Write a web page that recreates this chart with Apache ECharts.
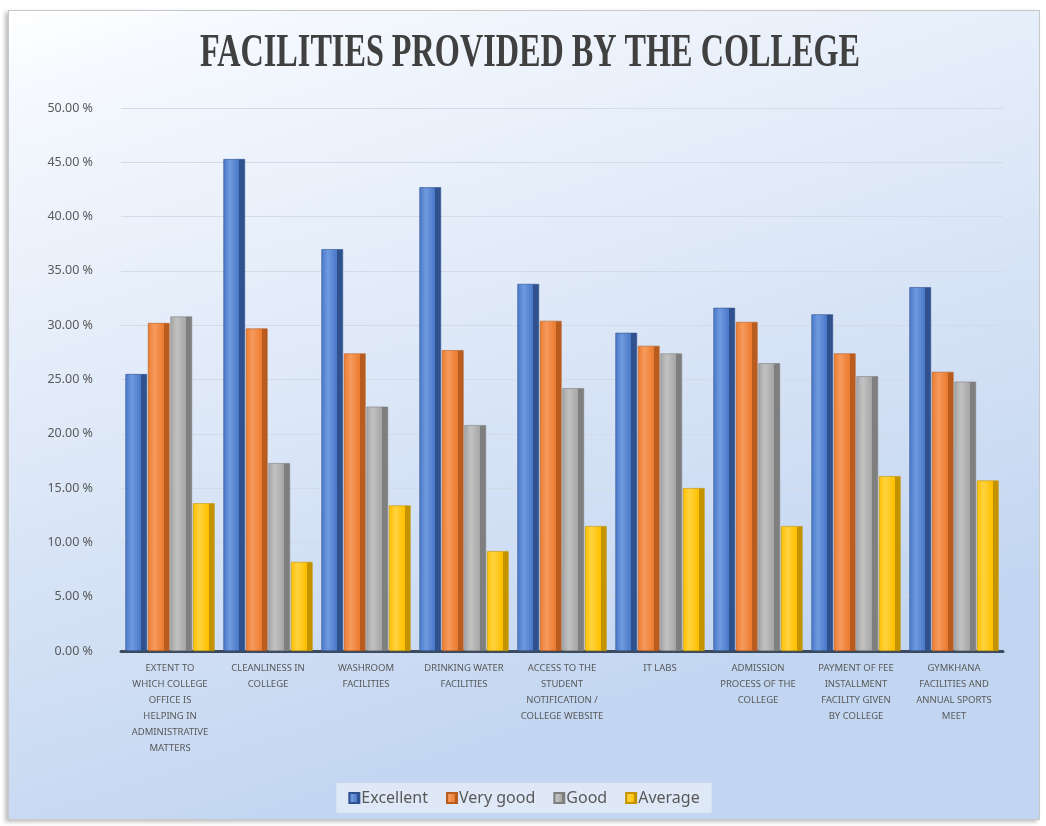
<!DOCTYPE html>
<html><head><meta charset="utf-8">
<script src="https://cdn.jsdelivr.net/npm/echarts@6/dist/echarts.min.js"></script>
<style>
html,body{margin:0;padding:0;background:#fff;width:1046px;height:826px;overflow:hidden}
#c{position:absolute;left:8px;top:10px;width:1030px;height:808px;border:1px solid #c8c8c8;box-shadow:-3px 2px 4px rgba(0,0,0,0.25)}
</style></head><body>
<div id="c"></div>
<script>
const title = 'FACILITIES PROVIDED BY THE COLLEGE';
const categories = [
  'EXTENT TO\nWHICH COLLEGE\nOFFICE IS\nHELPING IN\nADMINISTRATIVE\nMATTERS',
  'CLEANLINESS IN\nCOLLEGE',
  'WASHROOM\nFACILITIES',
  'DRINKING WATER\nFACILITIES',
  'ACCESS TO THE\nSTUDENT\nNOTIFICATION /\nCOLLEGE WEBSITE',
  'IT LABS',
  'ADMISSION\nPROCESS OF THE\nCOLLEGE',
  'PAYMENT OF FEE\nINSTALLMENT\nFACILITY GIVEN\nBY COLLEGE',
  'GYMKHANA\nFACILITIES AND\nANNUAL SPORTS\nMEET'
];
const seriesNames = ['Excellent', 'Very good', 'Good', 'Average'];
const excellent = [25.5, 45.3, 37.0, 42.7, 33.8, 29.3, 31.6, 31.0, 33.5];
const veryGood  = [30.2, 29.7, 27.4, 27.7, 30.4, 28.1, 30.3, 27.4, 25.7];
const good      = [30.8, 17.3, 22.5, 20.8, 24.2, 27.4, 26.5, 25.3, 24.8];
const average   = [13.6, 8.2, 13.4, 9.2, 11.5, 15.0, 11.5, 16.1, 15.7];
const yTicks = {min: 0, max: 50, interval: 5};

const palette = [
  ['#6f9ae0', '#4a78c8', '#2f528f'],
  ['#f59a5c', '#ec7c30', '#b85d1f'],
  ['#c2c2c2', '#a5a5a5', '#7f7f7f'],
  ['#ffd23f', '#ffc000', '#c49400']
];
function grad(p){
  return new echarts.graphic.LinearGradient(0,0,1,0,[
    {offset:0,color:p[1]},{offset:0.3,color:p[0]},{offset:0.72,color:p[1]},
    {offset:0.74,color:p[2]},{offset:1,color:p[2]}]);
}
const titleFont = 'bold 47px "Liberation Serif"';
const cv = document.createElement('canvas').getContext('2d');
cv.font = titleFont;
const titleScale = 660 / cv.measureText(title).width;

const dataSets = [excellent, veryGood, good, average];
const chart = echarts.init(document.getElementById('c'));
chart.setOption({
  backgroundColor: new echarts.graphic.LinearGradient(0,0,0.25,1,[
    {offset:0,color:'#ffffff'},{offset:0.1,color:'#f5f9fe'},{offset:0.5,color:'#dfe9f8'},{offset:1,color:'#c3d6f1'}]),
  animation:false,
  graphic:[{type:'text',x:521,y:43,scaleX:titleScale,
    style:{text:title,font:titleFont,fill:'#404040',textAlign:'center',textVerticalAlign:'middle'}}],
  legend:{bottom:6,left:'center',icon:'rect',itemWidth:10,itemHeight:10,itemGap:18,
    backgroundColor:'rgba(225,234,247,0.9)',padding:[7,12],
    textStyle:{fontFamily:'Noto Sans',fontSize:16,color:'#595959',padding:[0,0,0,-3]},
    data:seriesNames},
  grid:{left:112,right:36,top:97,bottom:168},
  xAxis:{type:'category',data:categories,
    axisLine:{lineStyle:{color:'#3b4a5c',width:3}},
    axisTick:{show:false},
    axisLabel:{interval:0,margin:9,fontFamily:'Noto Sans',fontSize:9.5,color:'#595959',lineHeight:16}},
  yAxis:{type:'value',min:yTicks.min,max:yTicks.max,interval:yTicks.interval,
    axisLine:{show:false},axisTick:{show:false},
    axisLabel:{formatter:v=>v.toFixed(2)+' %',fontFamily:'Noto Sans',fontSize:12.5,color:'#595959',margin:28},
    splitLine:{lineStyle:{color:'#d3dbe6',width:1}}},
  series: dataSets.map((d,i)=>({
    name:seriesNames[i],type:'bar',data:d,barGap:'4%',barCategoryGap:'9%',
    itemStyle:{color:grad(palette[i]),borderColor:palette[i][2],borderWidth:0.6}
  }))
});
</script></body></html>
